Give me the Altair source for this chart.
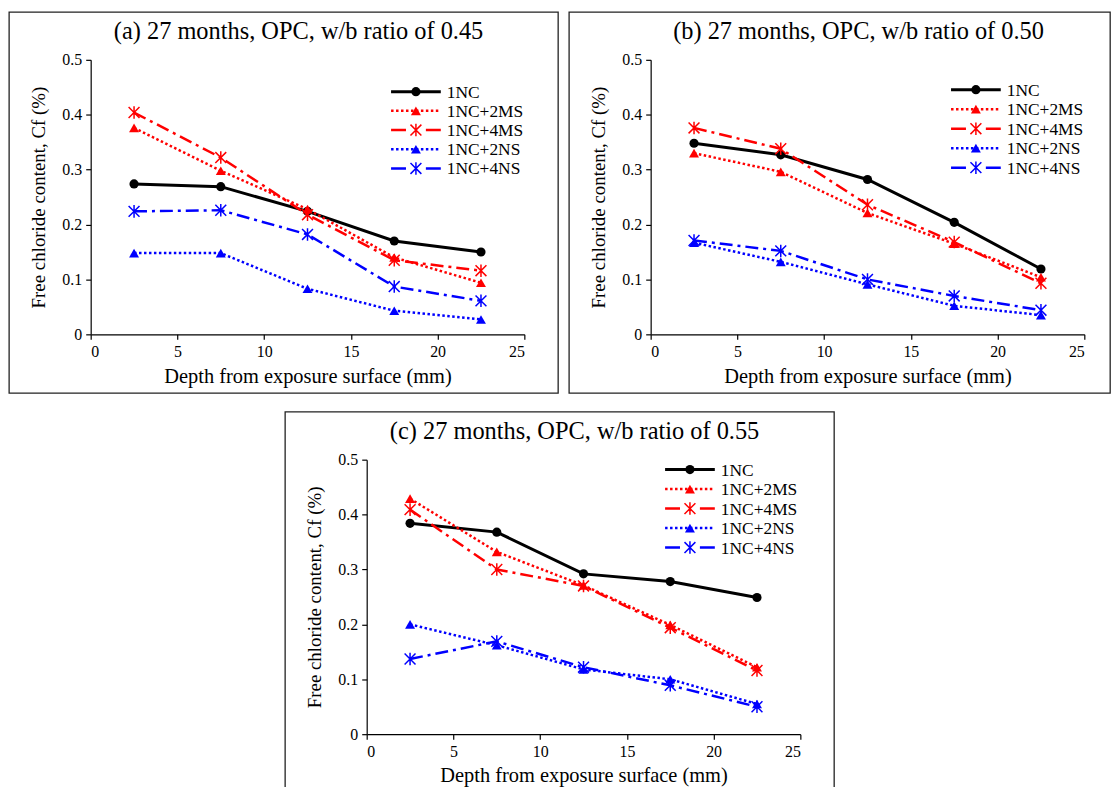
import altair as alt
import pandas as pd

# ---------------- data ----------------
depth = [2.5, 7.5, 12.5, 17.5, 22.5]
series_names = ["1NC", "1NC+2MS", "1NC+4MS", "1NC+2NS", "1NC+4NS"]

a_1nc = [0.274, 0.269, 0.224, 0.170, 0.150]
a_2ms = [0.376, 0.298, 0.228, 0.140, 0.094]
a_4ms = [0.404, 0.322, 0.218, 0.135, 0.116]
a_2ns = [0.148, 0.148, 0.083, 0.043, 0.027]
a_4ns = [0.224, 0.226, 0.182, 0.087, 0.061]

b_1nc = [0.348, 0.327, 0.282, 0.204, 0.119]
b_2ms = [0.330, 0.296, 0.221, 0.165, 0.104]
b_4ms = [0.376, 0.338, 0.236, 0.168, 0.093]
b_2ns = [0.167, 0.132, 0.091, 0.052, 0.035]
b_4ns = [0.171, 0.152, 0.100, 0.070, 0.044]

c_1nc = [0.384, 0.368, 0.292, 0.278, 0.249]
c_2ms = [0.429, 0.332, 0.271, 0.199, 0.122]
c_4ms = [0.409, 0.300, 0.270, 0.194, 0.116]
c_2ns = [0.200, 0.162, 0.118, 0.100, 0.055]
c_4ns = [0.137, 0.169, 0.122, 0.089, 0.050]

x_ticks = [0, 5, 10, 15, 20, 25]
y_ticks = [0, 0.1, 0.2, 0.3, 0.4, 0.5]

titles = [
    "(a) 27 months, OPC, w/b ratio of 0.45",
    "(b) 27 months, OPC, w/b ratio of 0.50",
    "(c) 27 months, OPC, w/b ratio of 0.55",
]
x_title = "Depth from exposure surface (mm)"
y_title = "Free chloride  content, Cf (%)"

# ---------------- styles ----------------
FONT = "Liberation Serif"
ASTER = "M-1,-1L1,1M-1,1L1,-1M0,-1.15L0,1.15"
RED = "#FF0000"
BLUE = "#0000FF"
styles = {
    "1NC": dict(color="black", dash=None, leg_dash=None, shape="circle",
                filled=True, width=3, size=85, pw=1),
    "1NC+2MS": dict(color=RED, dash=[2.5, 2.5], leg_dash=[2.5, 2.5], shape="triangle-up",
                    filled=True, width=2.5, size=100, pw=1),
    "1NC+4MS": dict(color=RED, dash=[13, 5, 3, 5], leg_dash=[15, 20, 15], shape=ASTER,
                    filled=False, width=2.5, size=120, pw=1.5),
    "1NC+2NS": dict(color=BLUE, dash=[2.5, 2.5], leg_dash=[2.5, 2.5], shape="triangle-up",
                    filled=True, width=2.5, size=100, pw=1),
    "1NC+4NS": dict(color=BLUE, dash=[13, 5, 3, 5], leg_dash=[15, 20, 15], shape=ASTER,
                    filled=False, width=2.5, size=120, pw=1.5),
}

W, H = 436, 276


def make_panel(title, values, right_ext, leg):
    lx0, lx1, lmark, ltext, ly0, ldy = leg
    xenc = alt.X("depth:Q", scale=alt.Scale(domain=[0, 25], nice=False),
                 axis=alt.Axis(values=x_ticks, title=x_title, grid=False,
                               tickSize=5, labelPadding=4, titlePadding=7,
                               titleFontSize=20.5))
    yenc = alt.Y("value:Q", scale=alt.Scale(domain=[0, 0.5], nice=False),
                 axis=alt.Axis(values=y_ticks, title=y_title, grid=False,
                               tickSize=5, labelPadding=4, titlePadding=13,
                               titleFontSize=19,
                               labelExpr="datum.value == 0 ? '0' : format(datum.value, '.1f')"))
    one = pd.DataFrame({"k": [0]})
    layers = [
        alt.Chart(one).mark_rect(filled=False, stroke="#222222", strokeWidth=1.3).encode(
            x=alt.value(-82), x2=alt.value(W + right_ext),
            y=alt.value(-48), y2=alt.value(H + 59)),
        alt.Chart(one).mark_text(
            align="center", baseline="alphabetic", font=FONT, fontSize=24.5, color="black").encode(
            x=alt.value(W / 2 - 9), y=alt.value(-21), text=alt.value(title)),
    ]
    for i, (name, vals) in enumerate(zip(series_names, values)):
        st = styles[name]
        df = pd.DataFrame({"depth": depth, "value": vals})
        lkw = dict(color=st["color"], strokeWidth=st["width"])
        if st["dash"]:
            lkw["strokeDash"] = st["dash"]
        layers.append(alt.Chart(df).mark_line(**lkw).encode(x=xenc, y=yenc))
        pkw = dict(shape=st["shape"], size=st["size"], filled=st["filled"],
                   color=st["color"], opacity=1, strokeWidth=st["pw"])
        layers.append(alt.Chart(df).mark_point(**pkw).encode(x=xenc, y=yenc))
        # legend entry
        yy = ly0 + ldy * i
        rkw = dict(color=st["color"], strokeWidth=st["width"])
        if st["leg_dash"]:
            rkw["strokeDash"] = st["leg_dash"]
        layers.append(alt.Chart(one).mark_rule(**rkw).encode(
            x=alt.value(lx0), x2=alt.value(lx1), y=alt.value(yy)))
        layers.append(alt.Chart(one).mark_point(**pkw).encode(
            x=alt.value(lmark), y=alt.value(yy)))
        layers.append(alt.Chart(one).mark_text(
            align="left", baseline="middle", font=FONT, fontSize=17.5, color="black").encode(
            x=alt.value(ltext), y=alt.value(yy + 1), text=alt.value(name)))
    return alt.layer(*layers).properties(width=W, height=H)


pa = make_panel(titles[0], [a_1nc, a_2ms, a_4ms, a_2ns, a_4ns], 34,
                (302, 352, 327, 358, 32, 19.3))
pb = make_panel(titles[1], [b_1nc, b_2ms, b_4ms, b_2ns, b_4ns], 26,
                (302, 352, 327, 358, 30, 19.6))
pc = make_panel(titles[2], [c_1nc, c_2ms, c_4ms, c_2ns, c_4ns], 34,
                (300, 350, 325, 356, 10, 19.6))

top = alt.hconcat(pa, pb, spacing=9)
chart = alt.vconcat(top, pc, spacing=17, center=True).properties(
    padding={"left": 8, "top": 9, "right": 0, "bottom": 0}
).configure(background="white").configure_view(stroke=None).configure_axis(
    labelFont=FONT, titleFont=FONT, labelFontSize=16,
    titleFontWeight="normal", labelColor="black", titleColor="black",
    domainColor="black", tickColor="black", domainWidth=1.2, tickWidth=1.2
)

chart.save("out.html", embed_options={"renderer": "svg", "actions": False})
